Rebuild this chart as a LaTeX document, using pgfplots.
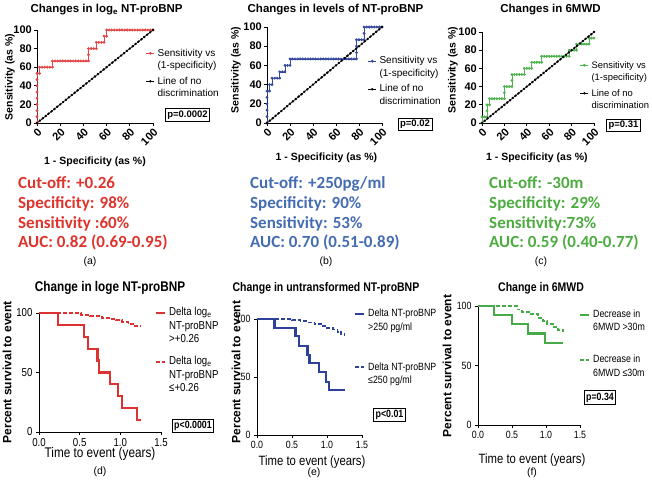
\documentclass[border=0pt]{standalone}
\usepackage{pgfplots}
\pgfplotsset{compat=1.18}
\usepackage{fontspec}
\setmainfont{Liberation Sans}
\newfontfamily\narrow[FakeStretch=0.84]{Liberation Sans}
\newfontfamily\calib{Carlito}
\newcommand{\fs}[1]{\fontsize{#1}{#1}\selectfont}
\definecolor{rred}{RGB}{226,70,70}
\definecolor{tred}{RGB}{222,52,44}
\definecolor{rblue}{RGB}{52,72,158}
\definecolor{tblue}{RGB}{68,108,178}
\definecolor{rgreen}{RGB}{78,178,78}
\definecolor{tgreen}{RGB}{76,172,64}
\definecolor{kred}{RGB}{220,50,50}
\definecolor{kblue}{RGB}{45,65,155}
\definecolor{kgreen}{RGB}{70,170,70}
\pgfplotsset{
 base/.style={scale only axis, clip=false,
   axis x line*=bottom, axis y line*=left,
   axis line style={-, line width=0.8pt, black},
   tick align=outside, major tick length=3pt,
   tick style={black, line width=0.8pt},
   /pgf/number format/assume math mode=true,
   every axis title shift=0pt,
   title style={anchor=center, yshift=0pt},
   xlabel style={anchor=center},
   ylabel style={anchor=center},
   legend cell align=left},
 roc/.style={base, xmin=0,xmax=100,ymin=0,ymax=100,
   xtick={0,20,...,100}, ytick={0,20,...,100},
   ticklabel style={font=\bfseries\fs{11}},
   xticklabel style={rotate=45, anchor=north east, inner sep=1pt},
   yticklabel style={inner sep=2pt},
   title style={font=\bfseries\fs{11.5}},
   xlabel={1 - Specificity (as \%)}, ylabel={Sensitivity (as \%)},
   label style={font=\bfseries\fs{10.5}},
   legend image code/.code={\draw[mark repeat=2,mark phase=2,##1] plot coordinates {(0pt,0pt) (4pt,0pt) (8pt,0pt)};},
   legend style={draw=none, fill=none, inner sep=0pt, outer sep=0pt, row sep=2pt, column sep=2pt, anchor=north west, font=\fs{10},
     nodes={inner xsep=1pt, inner ysep=0pt, text height=8pt, text depth=2.5pt}}},
 rocline/.style={line width=0.6pt, mark=*, mark size=1.1pt, mark options={solid}},
 diagline/.style={black, line width=0.6pt, mark=*, mark size=0.9pt},
 km/.style={base, xmin=0,xmax=1.5,ymin=0,ymax=100,
   xtick={0,0.5,1,1.5}, ytick={0,50,100},
   xticklabel style={/pgf/number format/fixed, /pgf/number format/fixed zerofill, /pgf/number format/precision=1},
   ticklabel style={font=\narrow\fs{10.5}},
   title style={font=\narrow\bfseries\fs{12.5}},
   xlabel={Time to event (years)}, xlabel style={font=\narrow\fs{13.5}},
   ylabel={Percent survival to event}, ylabel style={font=\bfseries\fs{12}},
   legend image code/.code={\draw[##1] (0pt,0pt) -- (9pt,0pt);},
   legend style={draw=none, fill=none, inner sep=0pt, outer sep=0pt, row sep=3pt, column sep=2pt, anchor=north west, font=\narrow\fs{10.5},
     nodes={inner xsep=1pt, inner ysep=0pt, text height=8pt, text depth=2.5pt}}},
 solidkm/.style={const plot, line width=2.2pt},
 dashkm/.style={const plot, line width=1.8pt, dash pattern=on 4pt off 2pt},
}
\begin{document}
\begin{tikzpicture}
\path[use as bounding box] (0pt,0pt) rectangle (652pt,486pt);
% ---------------- (a)
\begin{axis}[roc, at={(37pt,363pt)}, anchor=south west, width=116pt, height=93pt,
  title={Changes in log\textsubscript{e} NT-proBNP},
  title style={at={(axis description cs:0.6,1.215)}},
  xlabel style={at={(axis description cs:0.5,-0.42)}},
  ylabel style={at={(axis description cs:-0.233,0.495)}},
  legend style={at={(0.94,0.806)}}]
\addplot[rred, rocline] coordinates {(0,0)(0,6.7)(0,13.3)(0,20)(0,26.7)(0,33.3)(0,40)(0,46.7)(0,53.3)(2.2,53.3)(2.2,60)(4.4,60)(6.7,60)(8.9,60)(11.1,60)(13.3,60)(13.3,66.7)(15.6,66.7)(17.8,66.7)(20,66.7)(22.2,66.7)(24.4,66.7)(26.7,66.7)(28.9,66.7)(31.1,66.7)(33.3,66.7)(35.6,66.7)(37.8,66.7)(40,66.7)(42.2,66.7)(44.4,66.7)(44.4,73.3)(44.4,80)(46.7,80)(48.9,80)(51.1,80)(51.1,86.7)(53.3,86.7)(55.6,86.7)(57.8,86.7)(57.8,93.3)(60,93.3)(60,100)(62.2,100)(64.4,100)(66.7,100)(68.9,100)(71.1,100)(73.3,100)(75.6,100)(77.8,100)(80,100)(82.2,100)(84.4,100)(86.7,100)(88.9,100)(91.1,100)(93.3,100)(95.6,100)(97.8,100)(100,100)};
\addlegendentry{Sensitivity vs}
\addlegendimage{empty legend}\addlegendentry{(1-specificity)}
\addlegendimage{empty legend}\addlegendentry[text height=0.5pt,text depth=0pt]{}
\addplot[diagline] coordinates {(0,0)(2.5,2.5)(5,5)(7.5,7.5)(10,10)(12.5,12.5)(15,15)(17.5,17.5)(20,20)(22.5,22.5)(25,25)(27.5,27.5)(30,30)(32.5,32.5)(35,35)(37.5,37.5)(40,40)(42.5,42.5)(45,45)(47.5,47.5)(50,50)(52.5,52.5)(55,55)(57.5,57.5)(60,60)(62.5,62.5)(65,65)(67.5,67.5)(70,70)(72.5,72.5)(75,75)(77.5,77.5)(80,80)(82.5,82.5)(85,85)(87.5,87.5)(90,90)(92.5,92.5)(95,95)(97.5,97.5)(100,100)};
\addlegendentry{Line of no}
\addlegendimage{empty legend}\addlegendentry{discrimination}
\end{axis}
% ---------------- (b)
\begin{axis}[roc, at={(267pt,363pt)}, anchor=south west, width=115pt, height=96pt,
  title={Changes in levels of NT-proBNP},
  title style={at={(axis description cs:0.596,1.177)}},
  xlabel style={at={(axis description cs:0.517,-0.36)}},
  ylabel style={at={(axis description cs:-0.27,0.552)}},
  legend style={at={(0.878,0.698)}}]
\addplot[rblue, rocline] coordinates {(0,0)(0,6.7)(0,13.3)(0,20)(0,26.7)(0,33.3)(2.2,33.3)(2.2,40)(4.4,40)(4.4,46.7)(6.7,46.7)(8.9,46.7)(11.1,46.7)(11.1,53.3)(13.3,53.3)(15.6,53.3)(15.6,60)(17.8,60)(20,60)(20,66.7)(22.2,66.7)(24.4,66.7)(26.7,66.7)(28.9,66.7)(31.1,66.7)(33.3,66.7)(35.6,66.7)(37.8,66.7)(40,66.7)(42.2,66.7)(44.4,66.7)(46.7,66.7)(48.9,66.7)(51.1,66.7)(53.3,66.7)(55.6,66.7)(57.8,66.7)(60,66.7)(62.2,66.7)(64.4,66.7)(66.7,66.7)(68.9,66.7)(71.1,66.7)(73.3,66.7)(75.6,66.7)(77.8,66.7)(77.8,73.3)(77.8,80)(77.8,86.7)(80,86.7)(82.2,86.7)(84.4,86.7)(84.4,93.3)(84.4,100)(86.7,100)(88.9,100)(91.1,100)(93.3,100)(95.6,100)(97.8,100)(100,100)};
\addlegendentry{Sensitivity vs}
\addlegendimage{empty legend}\addlegendentry{(1-specificity)}
\addlegendimage{empty legend}\addlegendentry[text height=0.5pt,text depth=0pt]{}
\addplot[diagline] coordinates {(0,0)(2.5,2.5)(5,5)(7.5,7.5)(10,10)(12.5,12.5)(15,15)(17.5,17.5)(20,20)(22.5,22.5)(25,25)(27.5,27.5)(30,30)(32.5,32.5)(35,35)(37.5,37.5)(40,40)(42.5,42.5)(45,45)(47.5,47.5)(50,50)(52.5,52.5)(55,55)(57.5,57.5)(60,60)(62.5,62.5)(65,65)(67.5,67.5)(70,70)(72.5,72.5)(75,75)(77.5,77.5)(80,80)(82.5,82.5)(85,85)(87.5,87.5)(90,90)(92.5,92.5)(95,95)(97.5,97.5)(100,100)};
\addlegendentry{Line of no}
\addlegendimage{empty legend}\addlegendentry{discrimination}
\end{axis}
% ---------------- (c)
\begin{axis}[roc, at={(482pt,363pt)}, anchor=south west, width=112pt, height=91pt,
  title={Changes in 6MWD},
  title style={at={(axis description cs:0.612,1.247)}},
  xlabel style={at={(axis description cs:0.49,-0.38)}},
  ylabel style={at={(axis description cs:-0.259,0.582)}},
  legend style={font=\fs{9.4}, at={(0.875,0.692)}}]
\addplot[rgreen, rocline] coordinates {(0,0)(0,6.7)(2.2,6.7)(4.4,6.7)(4.4,13.3)(4.4,20)(6.7,20)(6.7,26.7)(8.9,26.7)(11.1,26.7)(13.3,26.7)(15.6,26.7)(17.8,26.7)(20,26.7)(20,33.3)(20,40)(22.2,40)(24.4,40)(26.7,40)(26.7,46.7)(26.7,53.3)(28.9,53.3)(31.1,53.3)(33.3,53.3)(35.6,53.3)(37.8,53.3)(37.8,60)(40,60)(42.2,60)(44.4,60)(44.4,66.7)(46.7,66.7)(48.9,66.7)(51.1,66.7)(53.3,66.7)(53.3,73.3)(55.6,73.3)(57.8,73.3)(60,73.3)(62.2,73.3)(64.4,73.3)(66.7,73.3)(68.9,73.3)(71.1,73.3)(73.3,73.3)(75.6,73.3)(77.8,73.3)(77.8,80)(80,80)(82.2,80)(84.4,80)(84.4,86.7)(86.7,86.7)(88.9,86.7)(91.1,86.7)(93.3,86.7)(95.6,86.7)(95.6,93.3)(97.8,93.3)(100,93.3)};
\addlegendentry{Sensitivity vs}
\addlegendimage{empty legend}\addlegendentry{(1-specificity)}
\addlegendimage{empty legend}\addlegendentry[text height=0.5pt,text depth=0pt]{}
\addplot[diagline] coordinates {(0,0)(2.5,2.5)(5,5)(7.5,7.5)(10,10)(12.5,12.5)(15,15)(17.5,17.5)(20,20)(22.5,22.5)(25,25)(27.5,27.5)(30,30)(32.5,32.5)(35,35)(37.5,37.5)(40,40)(42.5,42.5)(45,45)(47.5,47.5)(50,50)(52.5,52.5)(55,55)(57.5,57.5)(60,60)(62.5,62.5)(65,65)(67.5,67.5)(70,70)(72.5,72.5)(75,75)(77.5,77.5)(80,80)(82.5,82.5)(85,85)(87.5,87.5)(90,90)(92.5,92.5)(95,95)(97.5,97.5)(100,100)};
\addlegendentry{Line of no}
\addlegendimage{empty legend}\addlegendentry{discrimination}
\end{axis}
% ---------------- (d)
\begin{axis}[km, at={(39pt,54pt)}, anchor=south west, width=122pt, height=119pt,
  title={Change in loge NT-proBNP},
  title style={font=\narrow\bfseries\fs{14}, at={(axis description cs:0.582,1.21)}},
  ticklabel style={font=\narrow\fs{11.5}},
  xlabel style={font=\narrow\fs{14}, at={(axis description cs:0.5,-0.185)}},
  ylabel style={at={(axis description cs:-0.262,0.504)}},
  legend style={font=\narrow\fs{11.5}, at={(0.951,1.046)}}]
\addplot[kred, solidkm] coordinates {(0,100)(0.23,90)(0.55,80)(0.6,70)(0.72,60)(0.74,50)(0.87,40)(0.97,30)(1.02,20)(1.2,10)(1.25,10)};
\addlegendentry{Delta log\textsubscript{e}}
\addlegendimage{empty legend}\addlegendentry{NT-proBNP}
\addlegendimage{empty legend}\addlegendentry{>+0.26}
\addlegendimage{empty legend}\addlegendentry[text height=5.5pt,text depth=0pt]{}
\addplot[kred, dashkm] coordinates {(0,100)(0.52,98.5)(0.63,97.5)(0.77,96)(0.88,95)(0.95,94)(1.02,92.5)(1.1,91)(1.18,89)(1.25,89)};
\addlegendentry{Delta log\textsubscript{e}}
\addlegendimage{empty legend}\addlegendentry{NT-proBNP}
\addlegendimage{empty legend}\addlegendentry{≤+0.26}
\end{axis}
% ---------------- (e)
\begin{axis}[km, at={(257pt,51pt)}, anchor=south west, width=105pt, height=116pt,
  title={Change in untransformed NT-proBNP},
  title style={at={(axis description cs:0.657,1.267)}},
  xlabel style={at={(axis description cs:0.524,-0.233)}},
  ylabel style={at={(axis description cs:-0.2,0.543)}},
  legend style={at={(0.924,1.09)}}]
\addplot[kblue, solidkm] coordinates {(0,100)(0.25,92)(0.55,85)(0.6,77)(0.72,69)(0.75,62)(0.88,54)(0.98,46)(1.03,39)(1.25,39)};
\addlegendentry{Delta NT-proBNP}
\addlegendimage{empty legend}\addlegendentry{>250 pg/ml}
\addlegendimage{empty legend}\addlegendentry[text height=23.5pt,text depth=0pt]{}
\addplot[kblue, dashkm] coordinates {(0,100)(0.5,99)(0.62,98)(0.72,97)(0.82,95.5)(0.92,94)(1.0,92.5)(1.08,91)(1.15,89)(1.2,87)(1.25,85)};
\addlegendentry{Delta NT-proBNP}
\addlegendimage{empty legend}\addlegendentry{≤250 pg/ml}
\end{axis}
% ---------------- (f)
\begin{axis}[km, at={(478pt,61pt)}, anchor=south west, width=102pt, height=119pt,
  title={Change in 6MWD},
  title style={at={(axis description cs:0.618,1.151)}},
  xlabel style={at={(axis description cs:0.529,-0.294)}},
  ylabel style={at={(axis description cs:-0.304,0.496)}},
  legend style={at={(0.99,0.971)}}]
\addplot[kgreen, solidkm] coordinates {(0,100)(0.24,92.3)(0.5,84.6)(0.74,76.9)(0.98,69.2)(1.25,69.2)};
\addlegendentry{Decrease in}
\addlegendimage{empty legend}\addlegendentry{6MWD >30m}
\addlegendimage{empty legend}\addlegendentry[text height=15.5pt,text depth=0pt]{}
\addplot[kgreen, dashkm] coordinates {(0,100)(0.58,97)(0.65,95)(0.75,93)(0.88,90)(0.95,87.5)(1.02,85)(1.1,82.5)(1.18,80)(1.25,78)};
\addlegendentry{Decrease in}
\addlegendimage{empty legend}\addlegendentry{6MWD ≤30m}
\end{axis}
% ---------------- statistics text
\begin{scope}[every node/.style={anchor=base west, inner sep=0pt}, font=\calib\bfseries\fs{17}]
\node[text=tred] at (18pt,297.7pt) {Cut-off: +0.26};
\node[text=tred] at (18pt,277.7pt) {Specificity: 98\%};
\node[text=tred] at (18pt,257.7pt) {Sensitivity :60\%};
\node[text=tred] at (18pt,238.7pt) {AUC: 0.82 (0.69-0.95)};
\node[text=tblue] at (250pt,297.7pt) {Cut-off: +250pg/ml};
\node[text=tblue] at (250pt,277.7pt) {Specificity: 90\%};
\node[text=tblue] at (250pt,257.7pt) {Sensitivity: 53\%};
\node[text=tblue] at (250pt,238.7pt) {AUC: 0.70 (0.51-0.89)};
\node[text=tgreen] at (489pt,297.7pt) {Cut-off: -30m};
\node[text=tgreen] at (489pt,277.7pt) {Specificity: 29\%};
\node[text=tgreen] at (489pt,257.7pt) {Sensitivity:73\%};
\node[text=tgreen] at (489pt,238.7pt) {AUC: 0.59 (0.40-0.77)};
\end{scope}
% ---------------- panel captions
\begin{scope}[font=\fs{10.5}]
\node at (90pt,224pt) {(a)};
\node at (326pt,224pt) {(b)};
\node at (541pt,224pt) {(c)};
\node at (100pt,14pt) {(d)};
\node at (314pt,13pt) {(e)};
\node at (532pt,13pt) {(f)};
\end{scope}
% ---------------- p-value boxes
\begin{scope}[every node/.style={draw, line width=0.8pt, inner xsep=2pt, inner ysep=2pt}]
\node[font=\bfseries\fs{9.5}] at (187.5pt,371pt) {p=0.0002};
\node[font=\bfseries\fs{9.5}] at (415pt,361.5pt) {p=0.02};
\node[font=\bfseries\fs{9.5}] at (623.5pt,360.5pt) {p=0.31};
\node[font=\narrow\bfseries\fs{10.5}] at (193pt,60pt) {p<0.0001};
\node[font=\narrow\bfseries\fs{10.5}] at (389.5pt,71pt) {p<0.01};
\node[font=\narrow\bfseries\fs{10.5}] at (600pt,88.5pt) {p=0.34};
\end{scope}
\end{tikzpicture}
\end{document}
